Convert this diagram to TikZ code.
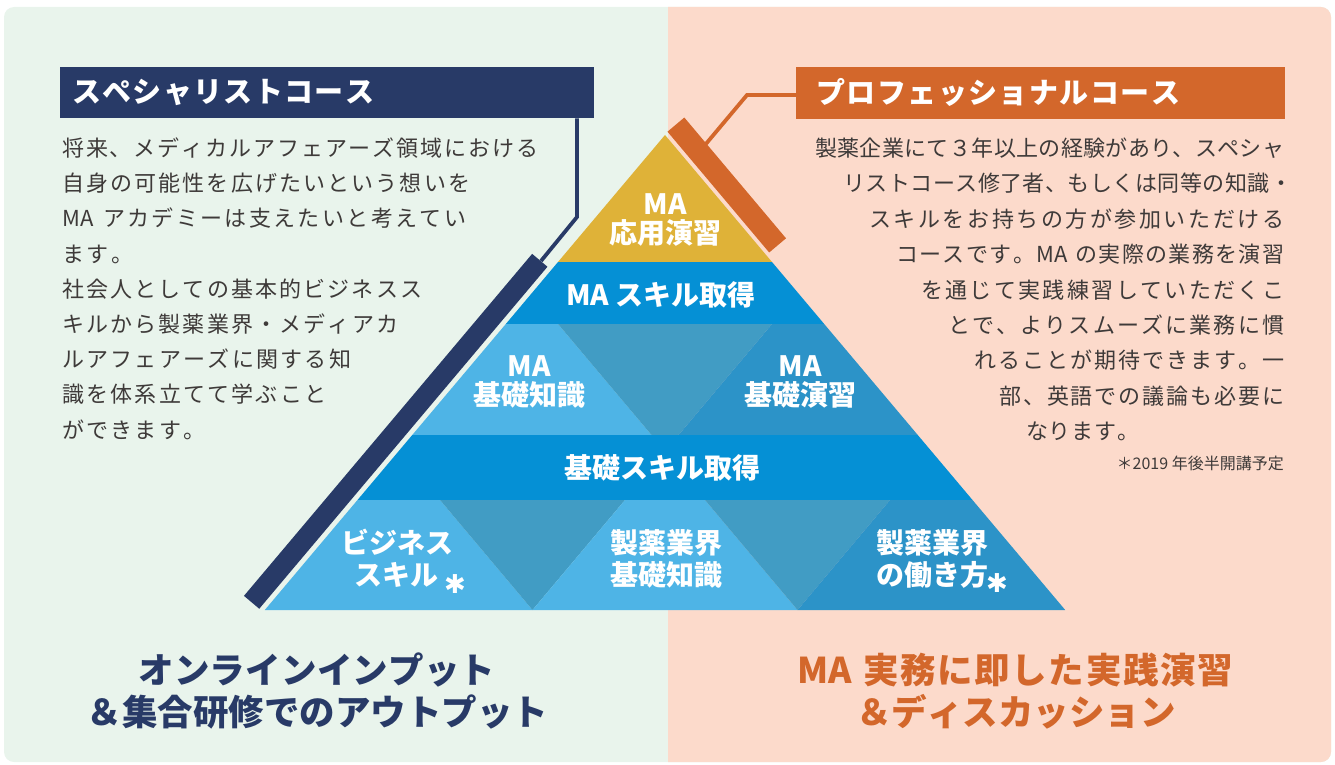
\documentclass[tikz,border=0pt]{standalone}
\usepackage{fontspec}
\newfontfamily\jp{Noto Sans CJK JP}
\newfontfamily\dv{DejaVu Sans}
\makeatletter
\newif\iffl@first
\newcommand\fitline[2]{\hbox to #1{\fl@firsttrue\@tfor\fl@x:=#2\do{\iffl@first\fl@firstfalse\else\hskip 0pt plus 1fil\fi\fl@x}}}
\makeatother
\definecolor{bggreen}{HTML}{E9F4EC}
\definecolor{bgpeach}{HTML}{FCDACB}
\definecolor{navy}{HTML}{283A67}
\definecolor{orng}{HTML}{D3672B}
\definecolor{gold}{HTML}{DFB238}
\definecolor{band}{HTML}{0590D5}
\definecolor{lightb}{HTML}{4EB4E6}
\definecolor{darkb}{HTML}{419CC4}
\definecolor{rightb}{HTML}{2C93C8}
\definecolor{txt}{HTML}{3E3A39}
\tikzset{
  para/.style={anchor=base west, inner sep=0pt, text=txt, font=\jp\fontsize{22}{26}\selectfont},
  parar/.style={para, anchor=base east},
  lab/.style={anchor=base, inner sep=0pt, text=white, font=\jp\bfseries\fontsize{28}{30}\selectfont},
  astx/.style={anchor=center, inner sep=0pt, text=white, font=\dv\bfseries\fontsize{26}{28}\selectfont},
  ttl/.style={anchor=base west, inner sep=0pt, text=white, font=\jp\bfseries\fontsize{29}{32}\selectfont},
  titlebar/.style={anchor=north west, inner sep=0pt, draw=none},
  captxt/.style={anchor=base, inner sep=0pt, font=\jp\bfseries\fontsize{35.5}{38}\selectfont},
  conn/.style={line width=3.8pt},
  sidebar/.style={line width=#1, line cap=butt}
}
\begin{document}
\begin{tikzpicture}[x=1pt,y=-1pt]
\useasboundingbox (0,0) rectangle (1335,765);
% background panels
\fill[bggreen, rounded corners=10pt] (4,7) rectangle (1331,762);
\begin{scope}
  \clip (668,0) rectangle (1335,765);
  \fill[bgpeach, rounded corners=10pt] (4,7) rectangle (1331,762);
\end{scope}

% pyramid
\fill[gold] (665,135) -- (772,262) -- (558,262) -- cycle;
\fill[band] (558,262) -- (772,262) -- (824.2,324) -- (505.8,324) -- cycle;
\fill[lightb] (505.8,324) -- (558,324) -- (651.5,435) -- (412.25,435) -- cycle;
\fill[darkb] (558,324) -- (772,324) -- (678.5,435) -- (651.5,435) -- cycle;
\fill[rightb] (772,324) -- (824.2,324) -- (917.75,435) -- (678.5,435) -- cycle;
\fill[band] (412.25,435) -- (917.75,435) -- (972.5,500) -- (357.5,500) -- cycle;
\fill[lightb] (357.5,500) -- (440,500) -- (532.5,610) -- (264.8,610) -- cycle;
\fill[darkb] (440,500) -- (625,500) -- (532.5,610) -- cycle;
\fill[lightb] (625,500) -- (705,500) -- (797.5,610) -- (532.5,610) -- cycle;
\fill[darkb] (705,500) -- (890,500) -- (797.5,610) -- cycle;
\fill[rightb] (890,500) -- (972.5,500) -- (1065.2,610) -- (797.5,610) -- cycle;

% title bars
\node[titlebar, fill=navy, minimum width=534pt, minimum height=51pt] (tl) at (60,67) {};
\node[titlebar, fill=orng, minimum width=489pt, minimum height=52pt] (tr) at (796,67) {};
\node[ttl] (tlt) at (72,103) {\fitline{302pt}{スペシャリストコース}};
\node[ttl] (trt) at (816,104) {\fitline{364pt}{プロフェッショナルコース}};

% connectors and side bars
\coordinate (lk) at (577,217);
\coordinate (le) at (541,261);
\coordinate (lb1) at (539.8,260.3);
\coordinate (lb2) at (251.6,602.3);
\draw[navy, conn] (tl.south -| lk) -- (lk) -- (le);
\draw[navy, sidebar=20pt] (lb1) -- (lb2);

\coordinate (rk) at (747,95);
\coordinate (re) at (705,145);
\coordinate (rb1) at (675.9,124.6);
\coordinate (rb2) at (777.6,245.4);
\draw[orng, conn] (tr.west |- rk) -- (rk) -- (re);
\draw[orng, sidebar=22pt] (rb1) -- (rb2);

% pyramid labels
\node[lab] (p1a) at (665,214) {MA};
\node[lab] (p1b) at (665,243.5) {応用演習};
\node[lab] (p2) at (661,305.5) {MA スキル取得};
\node[lab] (p3a) at (529,376.5) {MA};
\node[lab] (p3b) at (529,405.5) {基礎知識};
\node[lab] (p4a) at (800,376.5) {MA};
\node[lab] (p4b) at (800,405.5) {基礎演習};
\node[lab] (p5) at (662,478.5) {基礎スキル取得};
\node[lab] (p6a) at (397,553.5) {ビジネス};
\node[lab] (p6b) at (396,585.5) {スキル};
\node[astx] (s1) at (455,584) {✱};
\node[lab] (p7a) at (666,553.5) {製薬業界};
\node[lab] (p7b) at (666,585.5) {基礎知識};
\node[lab] (p8a) at (932,553.5) {製薬業界};
\node[lab] (p8b) at (932,585.5) {の働き方};
\node[astx] (s2) at (997,583) {✱};

% left paragraph
\node[para] (l1) at (62,156.4) {\fitline{476pt}{将来、メディカルアフェアーズ領域における}};
\node[para] (l2) at (62,191.6) {\fitline{408pt}{自身の可能性を広げたいという想いを}};
\node[para] (l3) at (62,226.8) {\fitline{404pt}{{MA}~アカデミーは支えたいと考えてい}};
\node[para] (l4) at (62,262.0) {\fitline{71pt}{ます。}};
\node[para] (l5) at (62,297.2) {\fitline{360pt}{社会人としての基本的ビジネスス}};
\node[para] (l6) at (62,332.4) {\fitline{336pt}{キルから製薬業界・メディアカ}};
\node[para] (l7) at (62,367.6) {\fitline{289pt}{ルアフェアーズに関する知}};
\node[para] (l8) at (62,402.8) {\fitline{264pt}{識を体系立てて学ぶこと}};
\node[para] (l9) at (62,438.0) {\fitline{143pt}{ができます。}};

% right paragraph
\node[para] (r1) at (815,156.4) {\fitline{469pt}{製薬企業にて３年以上の経験があり、スペシャ}};
\node[para] (r2) at (843,191.8) {\fitline{449pt}{リストコース修了者、もしくは同等の知識・}};
\node[para] (r3) at (869,227.2) {\fitline{415pt}{スキルをお持ちの方が参加いただける}};
\node[para] (r4) at (896,262.6) {\fitline{388pt}{コースです。{MA}~の実際の業務を演習}};
\node[para] (r5) at (921,298.0) {\fitline{363pt}{を通じて実践練習していただくこ}};
\node[para] (r6) at (948,333.4) {\fitline{336pt}{とで、よりスムーズに業務に慣}};
\node[para] (r7) at (974,368.8) {\fitline{310pt}{れることが期待できます。一}};
\node[para] (r8) at (999,404.2) {\fitline{285pt}{部、英語での議論も必要に}};
\node[para] (r9) at (1026,439.6) {\fitline{113pt}{なります。}};
\node[parar, font=\jp\fontsize{16}{18}\selectfont] (note) at (1284,469) {＊2019 年後半開講予定};

% captions
\node[captxt, text=navy] (c1) at (317,683) {\fitline{357pt}{オンラインインプット}};
\node[captxt, text=navy] (c2) at (317,725) {\fitline{461pt}{＆集合研修でのアウトプット}};
\node[captxt, text=orng] (c3) at (1015,683) {\fitline{436pt}{{MA}~実務に即した実践演習}};
\node[captxt, text=orng] (c4) at (1015,725) {\fitline{318pt}{＆ディスカッション}};
\end{tikzpicture}
\end{document}
